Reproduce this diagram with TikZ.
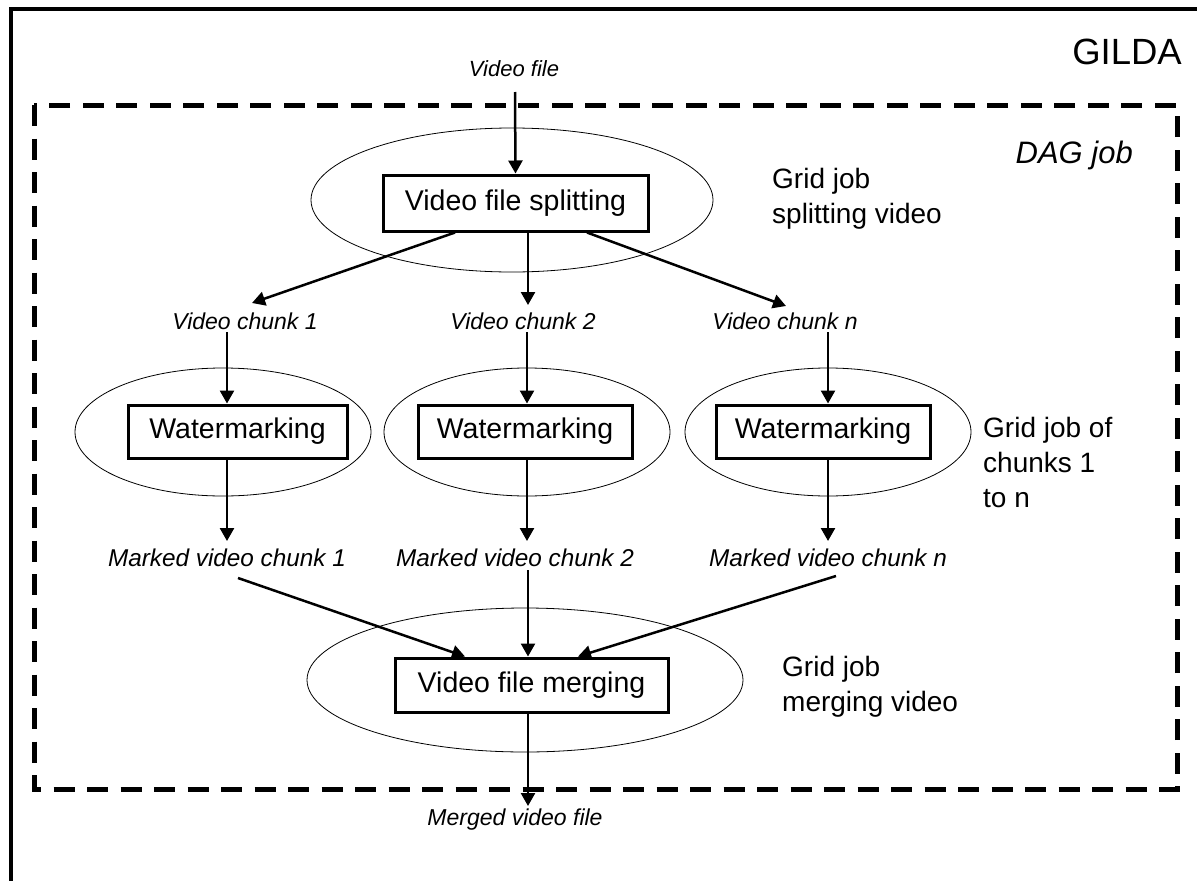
\documentclass[tikz,border=0pt]{standalone}
\usepackage{fontspec}
\setmainfont{Liberation Sans}
\usetikzlibrary{arrows.meta,shapes.geometric}
\newcommand\setfs[1]{\fontsize{#1}{#1}\selectfont}

\begin{document}
\begin{tikzpicture}[x=1pt,y=-1pt,
  frame/.style={line width=4pt},
  dagline/.style={line width=5pt, dash pattern=on 21pt off 12.5pt},
  jobshape/.style={ellipse, draw, line width=0.8pt, inner sep=0pt},
  taskbox/.style={draw, fill=white, line width=3pt, inner sep=0pt,
    font=\setfs{28.5}, text height=20pt, text depth=6pt},
  flow/.style={line width=2.5pt, -{Triangle[length=13pt,width=14pt]}},
  datalabel/.style={inner sep=0pt, anchor=base, font=\itshape\setfs{23}},
  note/.style={inner sep=0pt, anchor=base west, align=left,
    font=\fontsize{28}{35}\selectfont}]

\useasboundingbox (0,0) rectangle (1197,881);

% outer GILDA frame and DAG job boundary
\draw[frame] (10.5,900) -- (10.5,8.5) -- (1210,8.5);
\draw[dagline] (34,105) rectangle (1177,789);

\node[inner sep=0pt, anchor=base east, font=\setfs{36.5}] (gilda) at (1182,64) {GILDA};
\node[inner sep=0pt, anchor=base east, font=\itshape\setfs{31}] (dag) at (1133,163) {DAG job};

% grid jobs
\node[jobshape, minimum width=402pt, minimum height=144pt] (esplit) at (512,200) {};
\node[jobshape, minimum width=296pt, minimum height=128pt] (ew1) at (223,432) {};
\node[jobshape, minimum width=286pt, minimum height=128pt] (ew2) at (527,432) {};
\node[jobshape, minimum width=286pt, minimum height=128pt] (ew3) at (828,432) {};
\node[jobshape, minimum width=436pt, minimum height=144pt] (emerge) at (525,680) {};

% tasks
\node[taskbox, minimum width=265pt, minimum height=56pt] (split) at (515.5,203) {Video file splitting};
\node[taskbox, minimum width=219pt, minimum height=53pt] (w1) at (237.5,431.5) {Watermarking};
\node[taskbox, minimum width=214pt, minimum height=53pt] (w2) at (525,431.5) {Watermarking};
\node[taskbox, minimum width=214pt, minimum height=53pt] (w3) at (823,431.5) {Watermarking};
\node[taskbox, minimum width=273pt, minimum height=54pt] (merge) at (531.5,685) {Video file merging};

% data items
\node[datalabel, font=\itshape\setfs{22}] (vf) at (514,76) {Video file};
\node[datalabel] (c1) at (245,329) {Video chunk 1};
\node[datalabel] (c2) at (523,329) {Video chunk 2};
\node[datalabel] (cn) at (785,329) {Video chunk n};
\node[datalabel, font=\itshape\setfs{24.3}] (m1) at (227,566) {Marked video chunk 1};
\node[datalabel, font=\itshape\setfs{24.3}] (m2) at (515,566) {Marked video chunk 2};
\node[datalabel, font=\itshape\setfs{24.3}] (mn) at (828,566) {Marked video chunk n};
\node[datalabel] (out) at (515,825) {Merged video file};

% job descriptions (base anchor sits on the last line)
\node[note] (nsplit) at (772,223) {Grid job\\splitting video};
\node[note] (nchunks) at (983,507) {Grid job of\\chunks 1\\to n};
\node[note] (nmerge) at (782,711) {Grid job\\merging video};

% connector ends next to the data items
\coordinate (vfout) at (515,92);
\coordinate (c1in) at (252,303);
\coordinate (c2in) at (528,305);
\coordinate (cnin) at (786,306);
\coordinate (c1out) at (227,332);
\coordinate (c2out) at (527,332);
\coordinate (cnout) at (828,332);
\coordinate (m1in) at (227,541);
\coordinate (m2in) at (527,541);
\coordinate (mnin) at (828,541);
\coordinate (m1out) at (238,578);
\coordinate (m2out) at (528,570);
\coordinate (mnout) at (836,576);
\coordinate (outin) at (528,806);

% data flow
\draw[flow] (vfout) -- (split.north);
\draw[flow] ([xshift=-60.5pt]split.south) -- (c1in);
\draw[flow] ([xshift=12.5pt]split.south) -- (c2in);
\draw[flow] ([xshift=71.5pt]split.south) -- (cnin);
\draw[flow] (c1out) -- ([xshift=-10.5pt]w1.north);
\draw[flow] (c2out) -- ([xshift=2pt]w2.north);
\draw[flow] (cnout) -- ([xshift=5pt]w3.north);
\draw[flow] ([xshift=-10.5pt]w1.south) -- (m1in);
\draw[flow] ([xshift=2pt]w2.south) -- (m2in);
\draw[flow] ([xshift=5pt]w3.south) -- (mnin);
\draw[flow] (m1out) -- ([xshift=-66.5pt]merge.north);
\draw[flow] (m2out) -- ([xshift=-3.5pt]merge.north);
\draw[flow] (mnout) -- ([xshift=46.5pt]merge.north);
\draw[flow] ([xshift=-3.5pt]merge.south) -- (outin);
\end{tikzpicture}
\end{document}
